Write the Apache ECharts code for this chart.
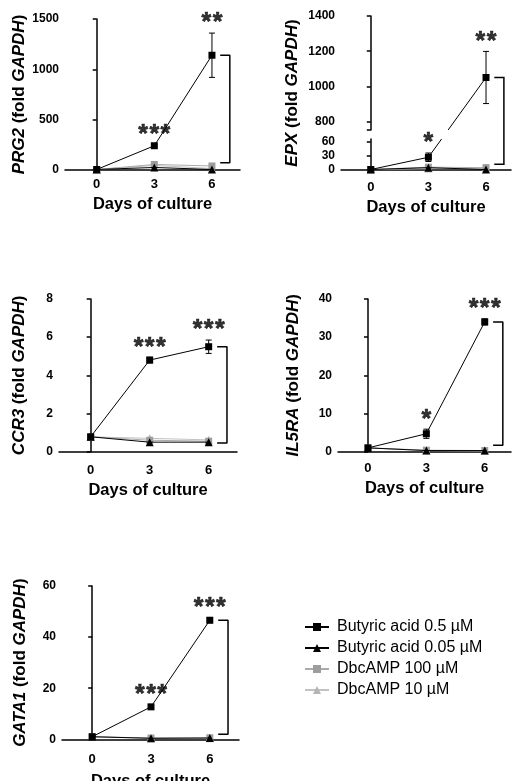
<!DOCTYPE html>
<html>
<head>
<meta charset="utf-8">
<script src="https://cdn.jsdelivr.net/npm/echarts@6/dist/echarts.min.js"></script>
<style>
html, body { margin: 0; padding: 0; background: #fff; }
#chart { width: 512px; height: 781px; }
</style>
</head>
<body>
<div id="chart"></div>
<script>
// days of culture
const days = [0, 3, 6];
const dayTicks = [0, 3, 6];
const seriesNames = ['Butyric acid 0.5 µM', 'Butyric acid 0.05 µM', 'DbcAMP 100 µM', 'DbcAMP 10 µM'];

// PRG2
const prg2Ba05 = [5, 241, 1140];
const prg2Ba05Err = [3, 15, 220];
const prg2Ba005 = [5, 25, 5];
const prg2Dbc100 = [5, 55, 40];
const prg2Dbc10 = [5, 45, 15];
const prg2Stars = ['', '***', '**'];
const prg2Ticks = [0, 500, 1000, 1500];
const prg2Bracket = [1140, 72];

// EPX (broken axis)
const epxBa05 = [1, 27, 1051];
const epxBa05Err = [0.5, 9, 148];
const epxBa005 = [1, 5, 1];
const epxDbc100 = [1, 6, 5];
const epxDbc10 = [1, 3, 3];
const epxStars = ['', '*', '**'];
const epxLowerTicks = [0, 30, 60];
const epxUpperTicks = [800, 1000, 1200, 1400];
const epxLowerMax = 65.7;
const epxUpperMin = 753;
const epxBracket = [1051, 12];

// CCR3
const ccr3Ba05 = [0.78, 4.8, 5.5];
const ccr3Ba05Err = [0.05, 0.15, 0.35];
const ccr3Ba005 = [0.78, 0.5, 0.5];
const ccr3Dbc100 = [0.78, 0.6, 0.55];
const ccr3Dbc10 = [0.78, 0.7, 0.62];
const ccr3Stars = ['', '***', '***'];
const ccr3Ticks = [0, 2, 4, 6, 8];
const ccr3Bracket = [5.5, 0.45];

// IL5RA
const il5raBa05 = [1.0, 4.7, 34.0];
const il5raBa05Err = [0.3, 1.2, 0.8];
const il5raBa005 = [1.0, 0.3, 0.3];
const il5raDbc100 = [1.0, 0.4, 0.3];
const il5raDbc10 = [1.0, 0.3, 0.2];
const il5raStars = ['', '*', '***'];
const il5raTicks = [0, 10, 20, 30, 40];
const il5raBracket = [34.0, 1.7];

// GATA1
const gata1Ba05 = [1.0, 12.7, 46.6];
const gata1Ba05Err = [0.3, 0.8, 1.0];
const gata1Ba005 = [1.0, 0.4, 0.5];
const gata1Dbc100 = [1.0, 0.5, 0.6];
const gata1Dbc10 = [1.0, 0.4, 0.4];
const gata1Stars = ['', '***', '***'];
const gata1Ticks = [0, 20, 40, 60];
const gata1Bracket = [46.6, 2.0];

const bracketX = [6.43, 6.93];

const FONT = "'Liberation Sans', Arial, sans-serif";
const styles = [
  { color: '#000', line: '#000', symbol: 'rect', size: 7 },
  { color: '#000', line: '#000', symbol: 'triangle', size: 8 },
  { color: '#9d9d9d', line: '#aaaaaa', symbol: 'rect', size: 7 },
  { color: '#b5b5b5', line: '#c2c2c2', symbol: 'triangle', size: 8 }
];

function pts(vals, keep) {
  const out = [];
  days.forEach((d, i) => { if (!keep || keep(vals[i])) out.push([d, vals[i]]); });
  return out;
}

function lineSeries(k, data, gi) {
  const s = styles[k];
  return {
    name: seriesNames[k], type: 'line', xAxisIndex: gi, yAxisIndex: gi,
    data: data, symbol: s.symbol, symbolSize: s.size, showSymbol: true,
    itemStyle: { color: s.color },
    lineStyle: { color: s.line, width: 1 },
    z: 10 - k, animation: false, silent: true
  };
}

function errSeries(vals, err, gi, keep) {
  const data = [];
  days.forEach((d, i) => { if (!keep || keep(vals[i])) data.push([d, vals[i] - err[i], vals[i] + err[i]]); });
  return {
    type: 'custom', xAxisIndex: gi, yAxisIndex: gi, data: data, z: 11, silent: true, animation: false,
    renderItem(params, api) {
      const lo = api.coord([api.value(0), api.value(1)]);
      const hi = api.coord([api.value(0), api.value(2)]);
      const w = 3;
      const st = { stroke: '#000', lineWidth: 1 };
      return { type: 'group', children: [
        { type: 'line', shape: { x1: lo[0], y1: lo[1], x2: hi[0], y2: hi[1] }, style: st },
        { type: 'line', shape: { x1: lo[0] - w, y1: lo[1], x2: lo[0] + w, y2: lo[1] }, style: st },
        { type: 'line', shape: { x1: hi[0] - w, y1: hi[1], x2: hi[0] + w, y2: hi[1] }, style: st }
      ] };
    }
  };
}

function starSeries(vals, err, stars, gi, keep) {
  const data = [];
  days.forEach((d, i) => {
    if (stars[i] && (!keep || keep(vals[i]))) data.push({ value: [d, vals[i] + err[i]], name: stars[i] });
  });
  return {
    type: 'scatter', xAxisIndex: gi, yAxisIndex: gi, data: data, symbolSize: 0, silent: true, animation: false,
    label: {
      show: true, position: 'top', distance: -3,
      formatter: p => p.name.split('').map(() => '{s|*}').join(''),
      rich: {
        s: {
          fontSize: 25, fontWeight: 'bold', color: '#000', fontFamily: FONT,
          textBorderColor: '#000', textBorderWidth: 0.6, padding: [0, 0.7, 0, 0.7]
        }
      }
    }
  };
}

function bracketSeries(br, gi) {
  return {
    type: 'line', xAxisIndex: gi, yAxisIndex: gi, symbol: 'none', silent: true, animation: false,
    lineStyle: { color: '#000', width: 1.5 },
    data: [[bracketX[0], br[0]], [bracketX[1], br[0]], [bracketX[1], br[1]], [bracketX[0], br[1]]]
  };
}

function panelSeries(gi, ba05, err, ba005, dbc100, dbc10, stars, br) {
  return [
    lineSeries(3, pts(dbc10), gi),
    lineSeries(2, pts(dbc100), gi),
    lineSeries(1, pts(ba005), gi),
    lineSeries(0, pts(ba05), gi),
    errSeries(ba05, err, gi),
    starSeries(ba05, err, stars, gi),
    bracketSeries(br, gi)
  ];
}

function yName(gene) {
  return {
    name: '{i|' + gene + '} (fold {i|GAPDH})',
    nameLocation: 'middle',
    nameTextStyle: {
      fontSize: 17, fontWeight: 'bold', color: '#000', fontFamily: FONT,
      rich: { i: { fontSize: 17, fontWeight: 'bold', fontStyle: 'italic', color: '#000', fontFamily: FONT } }
    }
  };
}

function yAxis(gi, min, max, ticks, gene, gap, extraTicks) {
  const ax = {
    gridIndex: gi, type: 'value', min: min, max: max,
    axisLine: { show: true, lineStyle: { color: '#000', width: 1.5 } },
    axisTick: { show: true, length: 4, customValues: (extraTicks || []).concat(ticks), lineStyle: { color: '#000', width: 1.5 } },
    axisLabel: { customValues: ticks, margin: 6, fontSize: 12, fontWeight: 'bold', color: '#000', fontFamily: FONT, formatter: v => String(v) },
    splitLine: { show: false }
  };
  if (gene) Object.assign(ax, yName(gene), { nameGap: gap });
  return ax;
}

function xAxis(gi, min, max, margin, gap, hidden) {
  if (hidden) return { gridIndex: gi, type: 'value', min: min, max: max, show: false };
  return {
    gridIndex: gi, type: 'value', min: min, max: max,
    axisLine: { show: true, onZero: false, lineStyle: { color: '#000', width: 1.5 } },
    axisTick: { show: false },
    axisLabel: { customValues: dayTicks, margin: margin, fontSize: 13, fontWeight: 'bold', color: '#000', fontFamily: FONT },
    splitLine: { show: false },
    name: 'Days of culture', nameLocation: 'middle', nameGap: gap,
    nameTextStyle: { fontSize: 16.5, fontWeight: 'bold', color: '#000', fontFamily: FONT }
  };
}

const above = v => v >= epxUpperMin;
const below = v => v <= epxLowerMax;

function grid(left, top, width, height) {
  return { left: left, top: top, width: width, height: height, outerBoundsMode: 'none', containLabel: false };
}

const chart = echarts.init(document.getElementById('chart'));
const option = {
  animation: false,
  textStyle: { fontFamily: FONT },
  grid: [
    grid(65, 19, 175, 151),      // 0 PRG2
    grid(341, 16, 170, 114),     // 1 EPX upper
    grid(341, 139, 170, 31),     // 2 EPX lower
    grid(341, 16, 170, 154),     // 3 EPX name holder
    grid(59, 299, 178, 152.7),   // 4 CCR3
    grid(338, 299, 173, 152.7),  // 5 IL5RA
    grid(62, 586, 177, 153.3)    // 6 GATA1
  ],
  xAxis: [
    xAxis(0, -1.65, 7.46, 8, 26),
    xAxis(1, -1.55, 7.3, 0, 0, true),
    xAxis(2, -1.55, 7.3, 11, 29),
    xAxis(3, -1.55, 7.3, 0, 0, true),
    xAxis(4, -1.61, 7.44, 12, 30),
    xAxis(5, -1.54, 7.35, 10, 28),
    xAxis(6, -1.54, 7.49, 14, 34)
  ],
  yAxis: [
    yAxis(0, 0, 1500, prg2Ticks, 'PRG2', 37),
    yAxis(1, epxUpperMin, 1400, epxUpperTicks, null, 0, [epxUpperMin]),
    yAxis(2, 0, epxLowerMax, epxLowerTicks),
    { gridIndex: 3, type: 'value', min: 0, max: 1, axisLine: { show: false }, axisTick: { show: false },
      axisLabel: { show: false }, splitLine: { show: false }, ...yName('EPX'), nameGap: 40 },
    yAxis(4, 0, 8, ccr3Ticks, 'CCR3', 31),
    yAxis(5, 0, 40, il5raTicks, 'IL5RA', 36),
    yAxis(6, 0, 60, gata1Ticks, 'GATA1', 33)
  ],
  legend: {
    orient: 'vertical', left: 299, top: 614, itemWidth: 24, itemHeight: 10, itemGap: 5,
    data: seriesNames, selectedMode: false,
    lineStyle: { width: 2 },
    textStyle: { fontSize: 16, color: '#000', fontFamily: FONT, padding: [0, 0, 0, 3] }
  },
  series: [].concat(
    panelSeries(0, prg2Ba05, prg2Ba05Err, prg2Ba005, prg2Dbc100, prg2Dbc10, prg2Stars, prg2Bracket),
    // EPX lower part
    [
      lineSeries(3, pts(epxDbc10), 2),
      lineSeries(2, pts(epxDbc100), 2),
      lineSeries(1, pts(epxBa005), 2),
      lineSeries(0, pts(epxBa05, below), 2),
      errSeries(epxBa05, epxBa05Err, 2, below),
      starSeries(epxBa05, epxBa05Err, epxStars, 2, below),
      // EPX upper part
      lineSeries(0, pts(epxBa05, above), 1),
      errSeries(epxBa05, epxBa05Err, 1, above),
      starSeries(epxBa05, epxBa05Err, epxStars, 1, above)
    ],
    panelSeries(4, ccr3Ba05, ccr3Ba05Err, ccr3Ba005, ccr3Dbc100, ccr3Dbc10, ccr3Stars, ccr3Bracket),
    panelSeries(5, il5raBa05, il5raBa05Err, il5raBa005, il5raDbc100, il5raDbc10, il5raStars, il5raBracket),
    panelSeries(6, gata1Ba05, gata1Ba05Err, gata1Ba005, gata1Dbc100, gata1Dbc10, gata1Stars, gata1Bracket)
  )
};
chart.setOption(option);

// EPX: segment crossing the axis break and bracket spanning both parts
const lo = p => chart.convertToPixel({ gridIndex: 2 }, p);
const up = p => chart.convertToPixel({ gridIndex: 1 }, p);
const a = lo([days[1], epxBa05[1]]);
const b = up([days[2], epxBa05[2]]);
const yLowTop = lo([0, epxLowerMax])[1];
const yUpBottom = up([0, epxUpperMin])[1];
const xAt = y => a[0] + (b[0] - a[0]) * (y - a[1]) / (b[1] - a[1]);
const segStyle = { stroke: '#000', lineWidth: 1 };
chart.setOption({
  graphic: [
    { type: 'line', silent: true, shape: { x1: a[0], y1: a[1], x2: xAt(yLowTop), y2: yLowTop }, style: segStyle, z: 5 },
    { type: 'line', silent: true, shape: { x1: xAt(yUpBottom), y1: yUpBottom, x2: b[0], y2: b[1] }, style: segStyle, z: 5 },
    { type: 'polyline', silent: true, z: 5,
      shape: { points: [
        up([bracketX[0], epxBracket[0]]), up([bracketX[1], epxBracket[0]]),
        lo([bracketX[1], epxBracket[1]]), lo([bracketX[0], epxBracket[1]])
      ] },
      style: { stroke: '#000', lineWidth: 1.5, fill: null } }
  ]
});
</script>
</body>
</html>
